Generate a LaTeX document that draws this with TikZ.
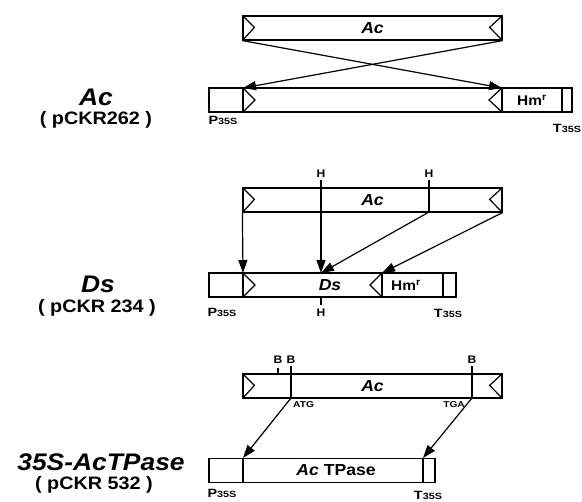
\documentclass[tikz,border=0pt]{standalone}
\usepackage{fontspec}
\setmainfont{Liberation Sans}[FakeStretch=1.1]
\newfontfamily\widefont{Liberation Sans}[FakeStretch=1.2]
\usetikzlibrary{arrows.meta}
\tikzset{
  box/.style={draw, line width=1.2pt, rectangle, minimum height=24pt, inner sep=0pt,
    font=\bfseries\fontsize{16}{16}\selectfont},
  arr/.style={line width=1.2pt, -{Triangle[length=13pt,width=9pt]}},
  ln/.style={line width=1.2pt},
  intext/.style={inner sep=0pt, font=\bfseries\fontsize{16}{16}\selectfont},
  hm/.style={inner sep=0pt, font=\bfseries\fontsize{14}{14}\selectfont},
  tag/.style={inner sep=0pt, font=\widefont\bfseries\fontsize{12}{12}\selectfont},
  site/.style={inner sep=0pt, font=\bfseries\fontsize{11}{11}\selectfont},
  codon/.style={inner sep=0pt, font=\widefont\bfseries\fontsize{8.5}{8.5}\selectfont},
  big/.style={inner sep=0pt, font=\bfseries\itshape\fontsize{24}{24}\selectfont},
  sublbl/.style={inner sep=0pt, font=\bfseries\fontsize{18}{18}\selectfont},
}
\newcommand{\Pts}{P{\fontsize{9}{9}\selectfont 35S}}
\newcommand{\Tts}{T{\fontsize{9}{9}\selectfont 35S}}
\begin{document}
\begin{tikzpicture}[x=1pt,y=-1pt]
\useasboundingbox (0,0) rectangle (582,502);

% ---------- Section 1: Ac ----------
\node[big] (lblA) at (96,97) {Ac};
\node[sublbl] (subA) at (96,120) {( pCKR262 )};

\node[box, minimum width=259pt] (acA) at (372.5,28) {\itshape Ac};
\draw[ln] (acA.north west) -- ++(12,12) -- (acA.south west);
\draw[ln] (acA.north east) -- ++(-13,12) -- (acA.south east);

\node[box, minimum width=363pt] (cA) at (390.5,100) {};
\draw[ln] (243,88) -- (243,112);
\draw[ln] (243,88) -- (255,100) -- (243,112);
\draw[ln] (502,88) -- (502,112);
\draw[ln] (502,88) -- (489,100) -- (502,112);
\draw[ln] (562,88) -- (562,112);
\node[hm] (hmA) at (532,100) {Hm\textsuperscript{r}};
\node[tag] (pA) at (223,120) {\Pts};
\node[tag] (tA) at (567,128) {\Tts};
\coordinate (cAL) at (243,88);
\coordinate (cAR) at (502,88);
\draw[arr] (acA.south west) -- (cAR);
\draw[arr] (acA.south east) -- (cAL);

% ---------- Section 2: Ds ----------
\node[big] (lblB) at (98,284) {Ds};
\node[sublbl] (subB) at (97,308) {( pCKR 234 )};

\node[box, minimum width=259pt] (acB) at (372.5,200) {\itshape Ac};
\draw[ln] (acB.north west) -- ++(12,12) -- (acB.south west);
\draw[ln] (acB.north east) -- ++(-13,12) -- (acB.south east);

\node[site] (h1) at (321,174) {H};
\node[site] (h2) at (429,174) {H};
\coordinate (h2b) at (429,212);
\draw[ln] (h2.south) ++(0,2) -- (h2b);

\node[box, minimum width=247pt] (ds) at (332.5,285) {};
\draw[ln] (243,273) -- (243,297);
\draw[ln] (243,273) -- (255,285) -- (243,297);
\draw[ln] (382,273) -- (382,297);
\draw[ln] (382,273) -- (370,285) -- (382,297);
\draw[ln] (443,273) -- (443,297);
\node[intext] (dsT) at (330,285) {\itshape Ds};
\node[hm] (hmB) at (406,285) {Hm\textsuperscript{r}};
\coordinate (dsL) at (243,273);
\coordinate (dsH) at (321,273);
\coordinate (dsR) at (382,273);
\coordinate (dsHb) at (321,297);
\node[site] (h3) at (321,313) {H};
\draw[ln] (dsHb) -- (321,305);
\node[tag] (pB) at (222,312) {\Pts};
\node[tag] (tB) at (448,313) {\Tts};

\draw[arr] (acB.south west) -- (dsL);
\draw[arr] (h1.south) ++(0,2) -- (dsH);
\draw[arr] (h2b) -- (dsH);
\draw[arr] (acB.south east) -- (dsR);

% ---------- Section 3: 35S-AcTPase ----------
\node[big] (lblC) at (101,462) {35S-AcTPase};
\node[sublbl] (subC) at (94,485) {( pCKR 532 )};

\node[box, minimum width=259pt] (acC) at (372.5,386) {\itshape Ac};
\draw[ln] (acC.north west) -- ++(12,12) -- (acC.south west);
\draw[ln] (acC.north east) -- ++(-13,12) -- (acC.south east);

\node[site] (b1) at (278,360) {B};
\node[site] (b2) at (291,360) {B};
\node[site] (b3) at (472,360) {B};
\draw[ln] (278,368) -- (278,374);
\coordinate (atg) at (291,398);
\coordinate (tga) at (472,398);
\draw[ln] (291,366) -- (atg);
\draw[ln] (472,366) -- (tga);
\node[codon, anchor=west] (atgT) at (293,405) {ATG};
\node[codon, anchor=east] (tgaT) at (465,405) {TGA};

\node[box, minimum width=226pt] (tp) at (322,470.5) {};
\draw[ln] (243,458) -- (243,483);
\draw[ln] (423,458) -- (423,483);
\node[intext] (tpT) at (336,470) {\textit{Ac} TPase};
\coordinate (tpL) at (243,458);
\coordinate (tpR) at (423,458);
\node[tag] (pC) at (222,493) {\Pts};
\node[tag] (tC) at (428,495) {\Tts};

\draw[arr] (atg) -- (tpL);
\draw[arr] (tga) -- (tpR);
\end{tikzpicture}
\end{document}
